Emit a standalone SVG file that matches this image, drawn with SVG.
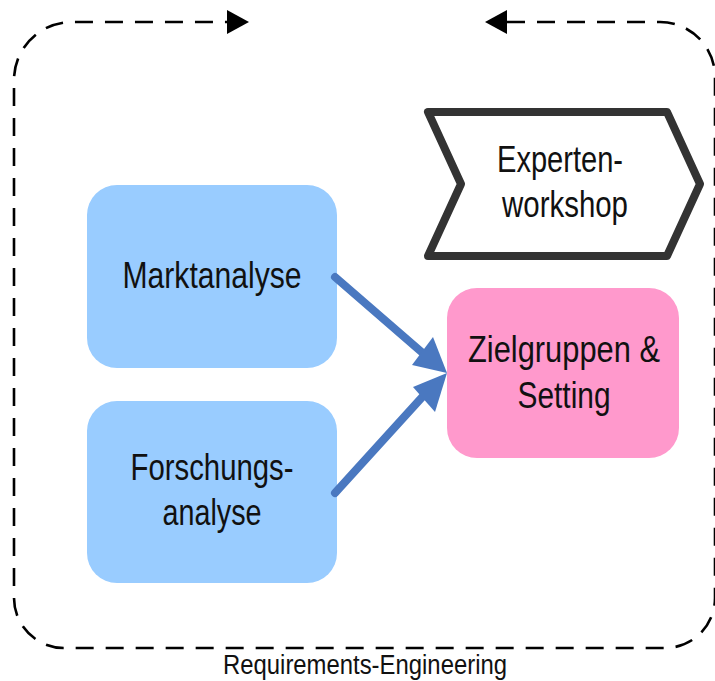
<svg xmlns="http://www.w3.org/2000/svg" width="715" height="681" viewBox="0 0 715 681">
<style>
.t{font-family:"Liberation Sans",Arial,sans-serif;font-size:36px;fill:#111;text-anchor:middle}
.blue{fill:#99ccff}
.pink{fill:#ff99cc}
.dash{fill:none;stroke:#000;stroke-width:2.6;stroke-dasharray:18 12}
.conn{stroke:#4a78c0;stroke-width:8;stroke-linecap:round;fill:none}
.head{fill:#4a78c0}
</style>
<rect width="715" height="681" fill="#fff"/>
<g id="cycle">
<path class="dash" d="M507,22 H660 A55,55 0 0 1 715,77 V598 A50,50 0 0 1 665,648 H64 A50,50 0 0 1 14,598 V80 A58,58 0 0 1 72,22 H228"/>
<polygon points="227,10 249,22 227,34" fill="#000"/>
<polygon points="507,10 485,22 507,34" fill="#000"/>
<text class="t" x="365" y="674" style="font-size:27px" textLength="284" lengthAdjust="spacingAndGlyphs">Requirements-Engineering</text>
</g>
<g id="marktanalyse">
<rect class="blue" x="87" y="185" width="250" height="183" rx="30"/>
<text class="t" x="212" y="288" textLength="179" lengthAdjust="spacingAndGlyphs">Marktanalyse</text>
</g>
<g id="forschungsanalyse">
<rect class="blue" x="87" y="401" width="250" height="182" rx="30"/>
<text class="t" x="212" y="480" textLength="163" lengthAdjust="spacingAndGlyphs">Forschungs-</text>
<text class="t" x="212" y="525" textLength="99" lengthAdjust="spacingAndGlyphs">analyse</text>
</g>
<g id="zielgruppen">
<rect class="pink" x="447" y="288" width="232" height="170" rx="30"/>
<text class="t" x="564" y="362" textLength="192" lengthAdjust="spacingAndGlyphs">Zielgruppen &amp;</text>
<text class="t" x="564" y="408" textLength="93" lengthAdjust="spacingAndGlyphs">Setting</text>
</g>
<g id="expertenworkshop">
<path d="M428,112 H667 L700,184 L667,256 H428 L461,184 Z" fill="#fff" stroke="#333" stroke-width="8" stroke-linejoin="round"/>
<text class="t" x="560" y="172" textLength="126" lengthAdjust="spacingAndGlyphs">Experten-</text>
<text class="t" x="565" y="217" textLength="126" lengthAdjust="spacingAndGlyphs">workshop</text>
</g>
<g id="connectors">
<line class="conn" x1="335" y1="277" x2="425" y2="355"/>
<polygon class="head" points="447,373 412,365 433,337"/>
<line class="conn" x1="335" y1="493" x2="425" y2="394"/>
<polygon class="head" points="447,373 413,387 435,412"/>
</g>
</svg>
